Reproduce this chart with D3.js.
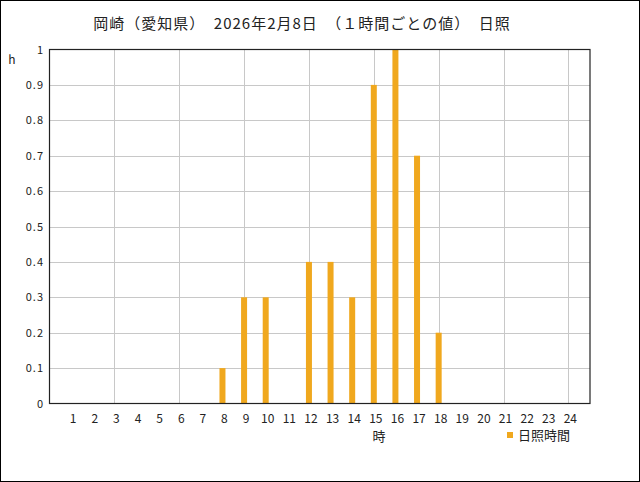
<!DOCTYPE html>
<html>
<head>
<meta charset="utf-8">
<script src="https://cdn.jsdelivr.net/npm/d3@7"></script>
<style>
  body { margin: 0; background: #fff; }
  svg text { font-family: "Noto Sans CJK JP", "DejaVu Sans", sans-serif; fill: #222; }
</style>
</head>
<body>
<script>
const hours = d3.range(1, 25);
const sunshine = [0, 0, 0, 0, 0, 0, 0, 0.1, 0.3, 0.3, 0, 0.4, 0.4, 0.3, 0.9, 1.0, 0.7, 0.2, 0, 0, 0, 0, 0, 0];
const yTicks = [0, 0.1, 0.2, 0.3, 0.4, 0.5, 0.6, 0.7, 0.8, 0.9, 1];
const xGrid = [3, 6, 9, 12, 15, 18, 21, 24];
const title = "岡崎（愛知県）　2026年2月8日　（１時間ごとの値）　日照";

const width = 640, height = 482;
const margin = { top: 49.5, right: 50, bottom: 78.5, left: 49.5 };
const barColor = "#f0a81e";

const svg = d3.select("body").append("svg")
  .attr("width", width)
  .attr("height", height);

// outer frame
svg.append("rect")
  .attr("x", 0.5).attr("y", 0.5)
  .attr("width", width - 1).attr("height", height - 1)
  .attr("fill", "#fff").attr("stroke", "#000");

const x = d3.scaleLinear().domain([0, 25]).range([margin.left, width - margin.right]);
const y = d3.scaleLinear().domain([0, 1]).range([height - margin.bottom, margin.top]);

// grid
svg.append("g").selectAll("line")
  .data(yTicks.slice(1, -1))
  .enter().append("line")
  .attr("x1", x(0)).attr("x2", x(25))
  .attr("y1", d => Math.round(y(d)) + 0.5).attr("y2", d => Math.round(y(d)) + 0.5)
  .attr("stroke", "#c8c8c8");

svg.append("g").selectAll("line")
  .data(xGrid)
  .enter().append("line")
  .attr("x1", d => Math.round(x(d)) + 0.5).attr("x2", d => Math.round(x(d)) + 0.5)
  .attr("y1", y(0)).attr("y2", y(1))
  .attr("stroke", "#c8c8c8");

// bars
svg.append("g").selectAll("rect")
  .data(hours.map((h, i) => ({ h, v: sunshine[i] })).filter(d => d.v > 0))
  .enter().append("rect")
  .attr("x", d => x(d.h) - 3)
  .attr("width", 6)
  .attr("y", d => y(d.v))
  .attr("height", d => y(0) - y(d.v))
  .attr("fill", barColor);

// plot frame
svg.append("rect")
  .attr("x", x(0)).attr("y", y(1))
  .attr("width", x(25) - x(0)).attr("height", y(0) - y(1))
  .attr("fill", "none").attr("stroke", "#222").attr("stroke-width", 1.2);

// y tick labels
svg.append("g").selectAll("text")
  .data(yTicks)
  .enter().append("text")
  .attr("x", 44)
  .attr("y", d => y(d) + 4)
  .attr("text-anchor", "end")
  .attr("font-size", 11)
  .style("letter-spacing", "1px")
  .text(d => d3.format("~g")(d));

// x tick labels
svg.append("g").selectAll("text")
  .data(hours)
  .enter().append("text")
  .attr("x", d => x(d) + 2)
  .attr("y", 423)
  .attr("text-anchor", "middle")
  .attr("font-size", 12)
  .text(d => d);

// unit labels
svg.append("text").attr("x", 12).attr("y", 64).attr("text-anchor", "middle")
  .attr("font-size", 12).text("h");
svg.append("text").attr("x", 379).attr("y", 441).attr("text-anchor", "middle")
  .attr("font-size", 13).text("時");

// title
svg.append("text").attr("x", 302).attr("y", 29).attr("text-anchor", "middle")
  .attr("font-size", 15).style("letter-spacing", "1px").text(title);

// legend
svg.append("rect").attr("x", 507).attr("y", 432).attr("width", 6).attr("height", 6).attr("fill", barColor);
svg.append("text").attr("x", 518).attr("y", 440).attr("font-size", 13).text("日照時間");
</script>
</body>
</html>
